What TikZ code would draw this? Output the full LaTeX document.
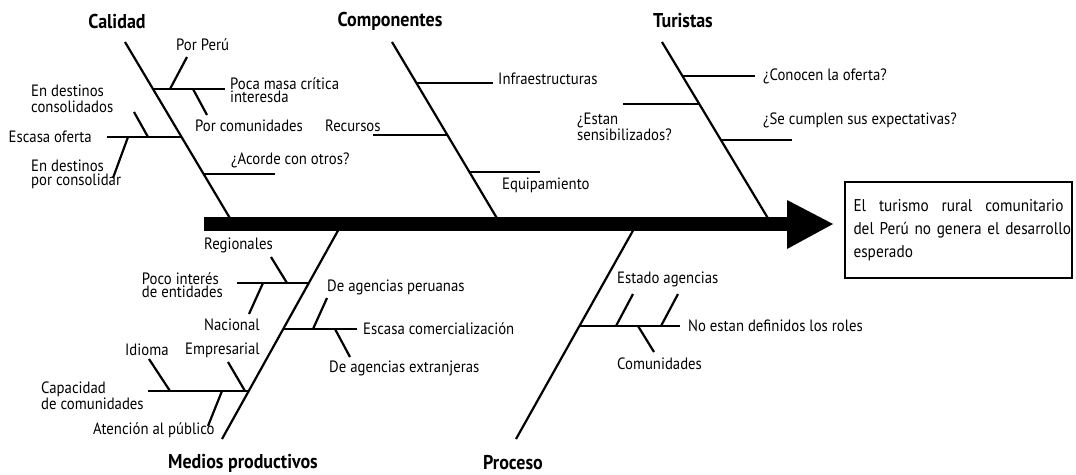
\documentclass[tikz,border=0pt]{standalone}
\usepackage{fontspec}
\setmainfont{PT Sans}[FakeStretch=0.9]
\begin{document}
\begin{tikzpicture}[x=1pt,y=-1pt,
  bone/.style={line width=2.2pt},
  lbl/.style={font=\fontsize{16.4}{14}\selectfont, inner sep=0pt, align=left},
  tight/.style={font=\fontsize{16.4}{12.5}\selectfont},
  ttl/.style={font=\fontsize{20}{20}\selectfont\bfseries, inner sep=0pt}]
\useasboundingbox (0,0) rectangle (1076,474);

% ---------- spine and head ----------
\coordinate (sp0) at (204,224);
\coordinate (sp1) at (788,224);
\coordinate (tip) at (833,224);
\coordinate (ahT) at (787,200);
\coordinate (ahB) at (787,249);
\draw[line width=14pt] (sp0) -- (sp1);
\fill (ahT) -- (tip) -- (ahB) -- cycle;

\node[draw, line width=1.5pt, minimum width=227pt, minimum height=96pt,
      text width=210pt, align=left, inner sep=0pt,
      font=\fontsize{17}{23}\selectfont] (effect) at (958.5,230)
  {\leavevmode\hbox to 210pt{El\hfill turismo\hfill rural\hfill comunitario}\\
   \leavevmode\hbox to 210pt{del Perú no genera el desarrollo}\\
   esperado};

% ---------- Calidad ----------
\coordinate (calT) at (125,42); \coordinate (calB) at (231,220);
\node[ttl] (calidad) at (117,21) {Calidad};
\draw[bone] (calT) -- (calB);
\coordinate (c1a) at (153,89); \coordinate (c1b) at (225,89);
\coordinate (c1p) at (170,89); \coordinate (c1pe) at (187,57);
\coordinate (c1q) at (193,89); \coordinate (c1qe) at (207,115);
\draw[bone] (c1a) -- (c1b);
\draw[bone] (c1p) -- (c1pe);
\draw[bone] (c1q) -- (c1qe);
\node[lbl,anchor=west] (porperu) at (176,45) {Por Perú};
\node[lbl,tight,anchor=west] (poca) at (230,90) {Poca masa crítica\\interesda};
\node[lbl,anchor=west] (porcom) at (195,126) {Por comunidades};
\coordinate (c2a) at (107,137); \coordinate (c2b) at (182,137);
\coordinate (c2p) at (148,137); \coordinate (c2pe) at (134,112);
\coordinate (c2q) at (128,137); \coordinate (c2qe) at (113,178);
\draw[bone] (c2a) -- (c2b);
\draw[bone] (c2p) -- (c2pe);
\draw[bone] (c2q) -- (c2qe);
\node[lbl,anchor=east] (escasa) at (92,137) {Escasa oferta};
\node[lbl,anchor=west,font=\fontsize{16.4}{16}\selectfont] (encons) at (31,99) {En destinos\\consolidados};
\node[lbl,anchor=west] (enpor) at (31,174) {En destinos\\por consolidar};
\coordinate (c3a) at (204,174); \coordinate (c3b) at (275,174);
\draw[bone] (c3a) -- (c3b);
\node[lbl,anchor=west] (acorde) at (231,160) {¿Acorde con otros?};

% ---------- Componentes ----------
\coordinate (comT) at (392,42); \coordinate (comB) at (498,220);
\node[ttl] (componentes) at (390,21) {Componentes};
\draw[bone] (comT) -- (comB);
\coordinate (k1a) at (417,83); \coordinate (k1b) at (493,83);
\coordinate (k2a) at (373,135); \coordinate (k2b) at (447,135);
\coordinate (k3a) at (470,172); \coordinate (k3b) at (540,172);
\draw[bone] (k1a) -- (k1b);
\draw[bone] (k2a) -- (k2b);
\draw[bone] (k3a) -- (k3b);
\node[lbl,anchor=west] (infra) at (498,79) {Infraestructuras};
\node[lbl,anchor=west] (recursos) at (325,126) {Recursos};
\node[lbl,anchor=west] (equip) at (502,185) {Equipamiento};

% ---------- Turistas ----------
\coordinate (turT) at (662,42); \coordinate (turB) at (769,220);
\node[ttl] (turistas) at (683,21) {Turistas};
\draw[bone] (turT) -- (turB);
\coordinate (t1a) at (682,76); \coordinate (t1b) at (755,76);
\coordinate (t2a) at (623,104); \coordinate (t2b) at (699,104);
\coordinate (t3a) at (721,140); \coordinate (t3b) at (792,140);
\draw[bone] (t1a) -- (t1b);
\draw[bone] (t2a) -- (t2b);
\draw[bone] (t3a) -- (t3b);
\node[lbl,anchor=west] (conocen) at (763,76) {¿Conocen la oferta?};
\node[lbl,tight,anchor=west] (estan) at (577,127) {¿Estan\\sensibilizados?};
\node[lbl,anchor=west] (secumplen) at (763,120) {¿Se cumplen sus expectativas?};

% ---------- Medios productivos ----------
\coordinate (medT) at (340,227); \coordinate (medB) at (222,439);
\node[ttl] (medios) at (243,463) {Medios productivos};
\draw[bone] (medT) -- (medB);
\coordinate (m1a) at (237,283); \coordinate (m1b) at (309,283);
\coordinate (m1r) at (287,283); \coordinate (m1re) at (271,257);
\coordinate (m1n) at (263,283); \coordinate (m1ne) at (249,314);
\draw[bone] (m1a) -- (m1b);
\draw[bone] (m1r) -- (m1re);
\draw[bone] (m1n) -- (m1ne);
\node[lbl,tight,anchor=east] (pocoint) at (223,285) {Poco interés\\de entidades};
\node[lbl,anchor=west] (regionales) at (204,245) {Regionales};
\node[lbl,anchor=west] (nacional) at (204,325) {Nacional};
\coordinate (m2a) at (148,391); \coordinate (m2b) at (249,391);
\coordinate (m2i) at (170,391); \coordinate (m2ie) at (149,359);
\coordinate (m2e) at (245,391); \coordinate (m2ee) at (228,362);
\coordinate (m2t) at (222,391); \coordinate (m2te) at (208,426);
\draw[bone] (m2a) -- (m2b);
\draw[bone] (m2i) -- (m2ie);
\draw[bone] (m2e) -- (m2ee);
\draw[bone] (m2t) -- (m2te);
\node[lbl,anchor=west] (capacidad) at (41,396) {Capacidad\\de comunidades};
\node[lbl,anchor=west] (idioma) at (125,350) {Idioma};
\node[lbl,anchor=west] (empresarial) at (185,350) {Empresarial};
\node[lbl,anchor=west] (atencion) at (93,430) {Atención al público};
\coordinate (m3a) at (283,329); \coordinate (m3b) at (357,329);
\coordinate (m3p) at (313,329); \coordinate (m3pe) at (327,298);
\coordinate (m3x) at (335,329); \coordinate (m3xe) at (350,357);
\draw[bone] (m3a) -- (m3b);
\draw[bone] (m3p) -- (m3pe);
\draw[bone] (m3x) -- (m3xe);
\node[lbl,anchor=west] (escom) at (363,329) {Escasa comercialización};
\node[lbl,anchor=west] (peruanas) at (327,287) {De agencias peruanas};
\node[lbl,anchor=west] (extranj) at (329,368) {De agencias extranjeras};

% ---------- Proceso ----------
\coordinate (proT) at (635,227); \coordinate (proB) at (516,439);
\node[ttl] (proceso) at (513,463) {Proceso};
\draw[bone] (proT) -- (proB);
\coordinate (p1a) at (580,326); \coordinate (p1b) at (680,326);
\coordinate (p1s) at (616,326); \coordinate (p1se) at (633,294);
\coordinate (p1t) at (661,326); \coordinate (p1te) at (678,294);
\coordinate (p1c) at (638,326); \coordinate (p1ce) at (654,352);
\draw[bone] (p1a) -- (p1b);
\draw[bone] (p1s) -- (p1se);
\draw[bone] (p1t) -- (p1te);
\draw[bone] (p1c) -- (p1ce);
\node[lbl,anchor=west] (noestan) at (688,326) {No estan definidos los roles};
\node[lbl,anchor=west] (estado) at (617,279) {Estado agencias};
\node[lbl,anchor=west] (comunid) at (617,364) {Comunidades};
\end{tikzpicture}
\end{document}
